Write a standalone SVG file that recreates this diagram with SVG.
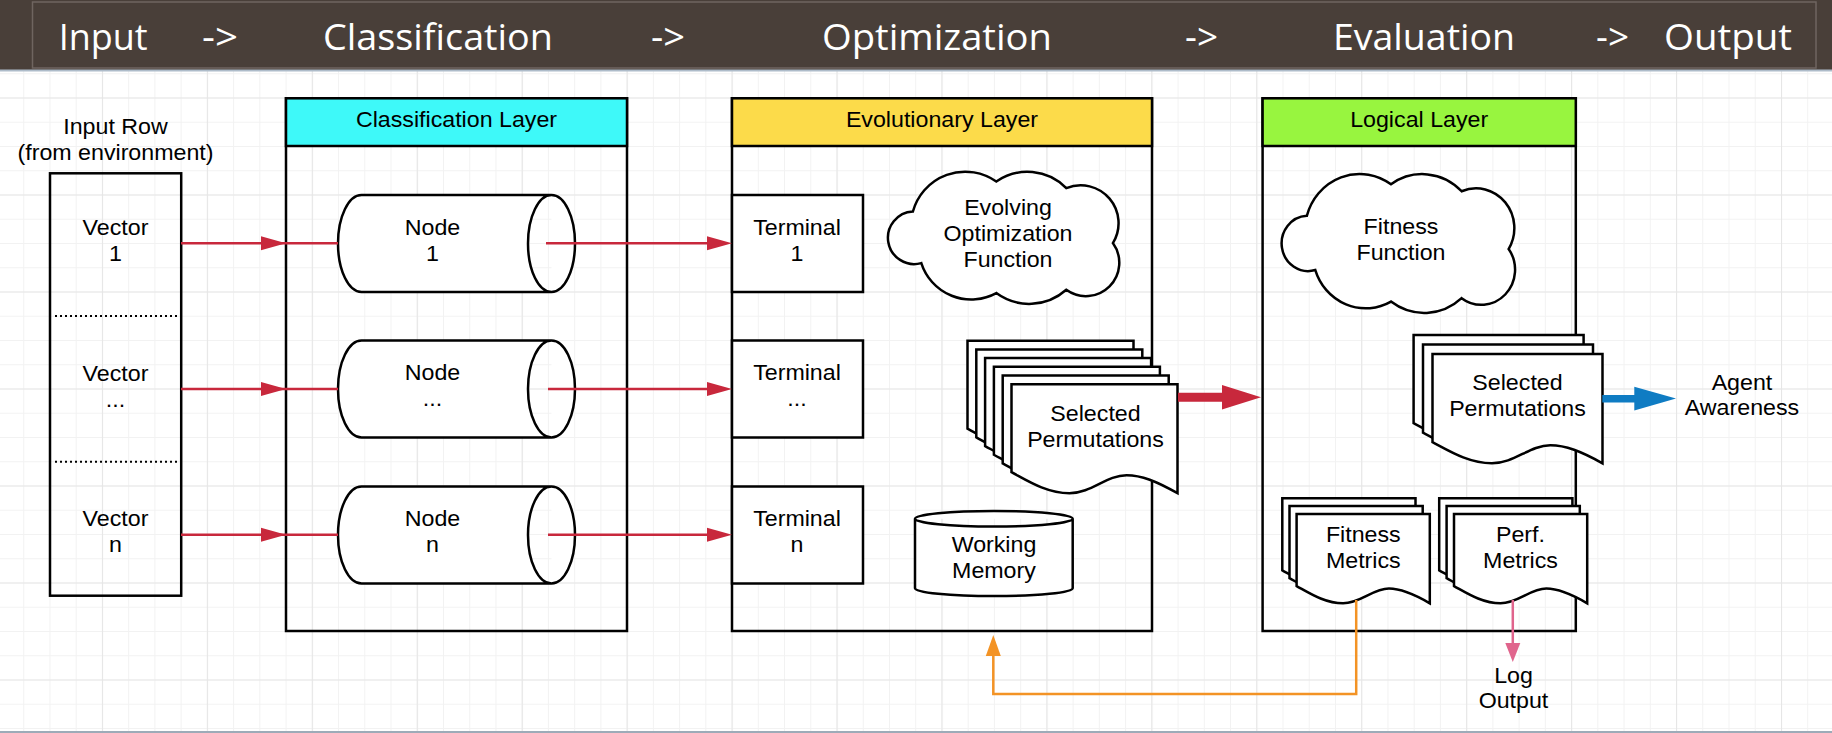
<svg xmlns="http://www.w3.org/2000/svg" width="1832" height="733" viewBox="0 0 1832 733">
<style>
.t{font-family:"Liberation Sans",Arial,sans-serif;font-size:21.5px;fill:#000;text-anchor:middle;transform-box:fill-box;transform-origin:50% 50%;transform:scaleX(1.08)}
.hd{font-family:"Open Sans","Noto Sans",sans-serif;font-size:36px;fill:#fff}
.box{fill:none;stroke:#000;stroke-width:2.5}
.wbox{fill:#fff;stroke:#000;stroke-width:2.5}
.doc{fill:#fff;stroke:#000;stroke-width:2.5;vector-effect:non-scaling-stroke;stroke-linejoin:miter}
.red{stroke:#C8283C;stroke-width:2.5;fill:none}
.redf{fill:#C8283C}
</style>
<defs>
<pattern id="gmin" x="-3" y="0.5" width="26.235" height="24.25" patternUnits="userSpaceOnUse">
<path d="M0.5,0 V24.25 M0,0.5 H26.235" stroke="#F2F2F2" stroke-width="1" fill="none"/>
</pattern>
<pattern id="gmaj" x="-3" y="0.5" width="104.94" height="97" patternUnits="userSpaceOnUse">
<path d="M0.5,0 V97 M0,0.5 H104.94" stroke="#E6E6E6" stroke-width="1.2" fill="none"/>
</pattern>
</defs>
<rect x="0" y="0" width="1832" height="733" fill="#fff"/>
<rect x="0" y="71" width="1832" height="660" fill="url(#gmin)"/>
<rect x="0" y="71" width="1832" height="660" fill="url(#gmaj)"/>
<line x1="0" y1="732" x2="1832" y2="732" stroke="#9DABB8" stroke-width="2"/>

<g id="header">
<rect x="0" y="0" width="1832" height="70" fill="#493F39"/>
<line x1="0" y1="70.5" x2="1832" y2="70.5" stroke="#AEBCCA" stroke-width="2"/>
<rect x="32.5" y="2" width="1783.5" height="66" fill="none" stroke="#6F6560" stroke-width="1.5"/>
<text class="hd" x="58.7" y="50" textLength="89" lengthAdjust="spacingAndGlyphs">Input</text>
<text class="hd" x="202" y="50" textLength="36" lengthAdjust="spacingAndGlyphs">-&gt;</text>
<text class="hd" x="323" y="50" textLength="230" lengthAdjust="spacingAndGlyphs">Classification</text>
<text class="hd" x="651" y="50" textLength="34" lengthAdjust="spacingAndGlyphs">-&gt;</text>
<text class="hd" x="822" y="50" textLength="230" lengthAdjust="spacingAndGlyphs">Optimization</text>
<text class="hd" x="1185" y="50" textLength="33" lengthAdjust="spacingAndGlyphs">-&gt;</text>
<text class="hd" x="1333" y="50" textLength="182" lengthAdjust="spacingAndGlyphs">Evaluation</text>
<text class="hd" x="1596" y="50" textLength="33" lengthAdjust="spacingAndGlyphs">-&gt;</text>
<text class="hd" x="1664" y="50" textLength="128" lengthAdjust="spacingAndGlyphs">Output</text>
</g>

<g id="input-row">
<text class="t" x="115.5" y="134">Input Row</text>
<text class="t" x="115.5" y="160">(from environment)</text>
<rect class="box" x="50" y="173.3" width="131.2" height="422.4"/>
<line x1="55" y1="316" x2="178" y2="316" stroke="#000" stroke-width="2" stroke-dasharray="2 3"/>
<line x1="55" y1="461.7" x2="178" y2="461.7" stroke="#000" stroke-width="2" stroke-dasharray="2 3"/>
<text class="t" x="115.5" y="235">Vector</text>
<text class="t" x="115.5" y="261">1</text>
<text class="t" x="115.5" y="381">Vector</text>
<text class="t" x="115.5" y="407">...</text>
<text class="t" x="115.5" y="526">Vector</text>
<text class="t" x="115.5" y="552">n</text>
</g>

<g id="classification-layer">
<rect class="box" x="286" y="98.3" width="341" height="532.7"/>
<rect x="286" y="98.3" width="341" height="47.7" fill="#3EF9F9" stroke="#000" stroke-width="2.5"/>
<text class="t" x="456.5" y="127">Classification Layer</text>
</g>

<g id="node-1">
<path class="wbox" d="M361.5,195 H551.5 A23.5,48.5 0 0 1 551.5,292 H361.5 A23.5,48.5 0 0 1 361.5,195 Z M551.5,195 A23.5,48.5 0 0 0 551.5,292"/>
<text class="t" x="432.5" y="235">Node</text>
<text class="t" x="432.5" y="261">1</text>
</g>
<g id="node-2">
<path class="wbox" d="M361.5,340.5 H551.5 A23.5,48.5 0 0 1 551.5,437.5 H361.5 A23.5,48.5 0 0 1 361.5,340.5 Z M551.5,340.5 A23.5,48.5 0 0 0 551.5,437.5"/>
<text class="t" x="432.5" y="380">Node</text>
<text class="t" x="432.5" y="406">...</text>
</g>
<g id="node-n">
<path class="wbox" d="M361.5,486.5 H551.5 A23.5,48.5 0 0 1 551.5,583.5 H361.5 A23.5,48.5 0 0 1 361.5,486.5 Z M551.5,486.5 A23.5,48.5 0 0 0 551.5,583.5"/>
<text class="t" x="432.5" y="526">Node</text>
<text class="t" x="432.5" y="552">n</text>
</g>

<g id="evolutionary-layer">
<rect class="box" x="732" y="98.3" width="420" height="532.7"/>
<rect x="732" y="98.3" width="420" height="47.7" fill="#FCDB4A" stroke="#000" stroke-width="2.5"/>
<text class="t" x="942" y="127">Evolutionary Layer</text>
</g>

<g id="terminal-1">
<rect class="wbox" x="732" y="195" width="131" height="97"/>
<text class="t" x="797" y="235">Terminal</text>
<text class="t" x="797" y="261">1</text>
</g>
<g id="terminal-2">
<rect class="wbox" x="732" y="340.5" width="131" height="97"/>
<text class="t" x="797" y="380">Terminal</text>
<text class="t" x="797" y="406">...</text>
</g>
<g id="terminal-n">
<rect class="wbox" x="732" y="486.5" width="131" height="97"/>
<text class="t" x="797" y="526">Terminal</text>
<text class="t" x="797" y="552">n</text>
</g>

<g id="evolving-optimization-function">
<path class="doc" transform="translate(887.6,171.5)" d="M25.3,40 A54.2,54.2 0 0 1 108.7,10 A54.7,54.7 0 0 1 178.7,16.6 A37.9,37.9 0 0 1 225.3,71.6 A33.4,33.4 0 0 1 178.7,118.3 A55.7,55.7 0 0 1 108.7,121.6 A52.4,52.4 0 0 1 33.7,91.6 A26.3,26.3 0 1 1 25.3,40 Z"/>
<text class="t" x="1008" y="215">Evolving</text>
<text class="t" x="1008" y="241">Optimization</text>
<text class="t" x="1008" y="267">Function</text>
</g>

<g id="working-memory">
<path class="wbox" d="M915,518.7 A78.85,7.8 0 0 1 1072.7,518.7 V588.3 A78.85,7.8 0 0 1 915,588.3 Z M915,518.7 A78.85,7.8 0 0 0 1072.7,518.7"/>
<text class="t" x="994" y="552">Working</text>
<text class="t" x="994" y="578">Memory</text>
</g>

<g id="selected-permutations-evo">
<path class="doc" transform="translate(967.5,340.7) scale(1.66,1.09)" d="M0,0 H100 V100 C87.3,89 78.3,83.5 69.3,83.5 C57.2,83.5 48.2,100 34.9,100 C21.1,100 9,88 0,80.7 Z"/>
<path class="doc" transform="translate(976.3,349.4) scale(1.66,1.09)" d="M0,0 H100 V100 C87.3,89 78.3,83.5 69.3,83.5 C57.2,83.5 48.2,100 34.9,100 C21.1,100 9,88 0,80.7 Z"/>
<path class="doc" transform="translate(985.1,358.1) scale(1.66,1.09)" d="M0,0 H100 V100 C87.3,89 78.3,83.5 69.3,83.5 C57.2,83.5 48.2,100 34.9,100 C21.1,100 9,88 0,80.7 Z"/>
<path class="doc" transform="translate(993.9,366.8) scale(1.66,1.09)" d="M0,0 H100 V100 C87.3,89 78.3,83.5 69.3,83.5 C57.2,83.5 48.2,100 34.9,100 C21.1,100 9,88 0,80.7 Z"/>
<path class="doc" transform="translate(1002.7,375.5) scale(1.66,1.09)" d="M0,0 H100 V100 C87.3,89 78.3,83.5 69.3,83.5 C57.2,83.5 48.2,100 34.9,100 C21.1,100 9,88 0,80.7 Z"/>
<path class="doc" transform="translate(1011.5,384.2) scale(1.66,1.09)" d="M0,0 H100 V100 C87.3,89 78.3,83.5 69.3,83.5 C57.2,83.5 48.2,100 34.9,100 C21.1,100 9,88 0,80.7 Z"/>
<text class="t" x="1095.5" y="421">Selected</text>
<text class="t" x="1095.5" y="447">Permutations</text>
</g>

<g id="logical-layer">
<rect class="box" x="1262.6" y="98.3" width="313.2" height="532.7"/>
<rect x="1262.6" y="98.3" width="313.2" height="47.7" fill="#98F53F" stroke="#000" stroke-width="2.5"/>
<text class="t" x="1419.2" y="127">Logical Layer</text>
</g>

<g id="fitness-function">
<path class="doc" transform="translate(1281.3,173.8) scale(1.009,1.051)" d="M25.3,40 A54.2,54.2 0 0 1 108.7,10 A54.7,54.7 0 0 1 178.7,16.6 A37.9,37.9 0 0 1 225.3,71.6 A33.4,33.4 0 0 1 178.7,118.3 A55.7,55.7 0 0 1 108.7,121.6 A52.4,52.4 0 0 1 33.7,91.6 A26.3,26.3 0 1 1 25.3,40 Z"/>
<text class="t" x="1401" y="234">Fitness</text>
<text class="t" x="1401" y="260.5">Function</text>
</g>

<g id="selected-permutations-logical">
<path class="doc" transform="translate(1413.6,335) scale(1.70,1.093)" d="M0,0 H100 V100 C87.3,89 78.3,83.5 69.3,83.5 C57.2,83.5 48.2,100 34.9,100 C21.1,100 9,88 0,80.7 Z"/>
<path class="doc" transform="translate(1423,344.5) scale(1.70,1.093)" d="M0,0 H100 V100 C87.3,89 78.3,83.5 69.3,83.5 C57.2,83.5 48.2,100 34.9,100 C21.1,100 9,88 0,80.7 Z"/>
<path class="doc" transform="translate(1432.5,354) scale(1.70,1.093)" d="M0,0 H100 V100 C87.3,89 78.3,83.5 69.3,83.5 C57.2,83.5 48.2,100 34.9,100 C21.1,100 9,88 0,80.7 Z"/>
<text class="t" x="1517.5" y="390">Selected</text>
<text class="t" x="1517.5" y="416.5">Permutations</text>
</g>

<g id="fitness-metrics">
<path class="doc" transform="translate(1282.3,498.3) scale(1.332,0.893)" d="M0,0 H100 V100 C87.3,89 78.3,83.5 69.3,83.5 C57.2,83.5 48.2,100 34.9,100 C21.1,100 9,88 0,80.7 Z"/>
<path class="doc" transform="translate(1289.5,506.1) scale(1.332,0.893)" d="M0,0 H100 V100 C87.3,89 78.3,83.5 69.3,83.5 C57.2,83.5 48.2,100 34.9,100 C21.1,100 9,88 0,80.7 Z"/>
<path class="doc" transform="translate(1296.6,514) scale(1.332,0.893)" d="M0,0 H100 V100 C87.3,89 78.3,83.5 69.3,83.5 C57.2,83.5 48.2,100 34.9,100 C21.1,100 9,88 0,80.7 Z"/>
<text class="t" x="1363.3" y="542.3">Fitness</text>
<text class="t" x="1363.3" y="568.3">Metrics</text>
</g>

<g id="perf-metrics">
<path class="doc" transform="translate(1439.2,498.3) scale(1.332,0.893)" d="M0,0 H100 V100 C87.3,89 78.3,83.5 69.3,83.5 C57.2,83.5 48.2,100 34.9,100 C21.1,100 9,88 0,80.7 Z"/>
<path class="doc" transform="translate(1446.6,506.1) scale(1.332,0.893)" d="M0,0 H100 V100 C87.3,89 78.3,83.5 69.3,83.5 C57.2,83.5 48.2,100 34.9,100 C21.1,100 9,88 0,80.7 Z"/>
<path class="doc" transform="translate(1454,514) scale(1.332,0.893)" d="M0,0 H100 V100 C87.3,89 78.3,83.5 69.3,83.5 C57.2,83.5 48.2,100 34.9,100 C21.1,100 9,88 0,80.7 Z"/>
<text class="t" x="1520.5" y="542.3">Perf.</text>
<text class="t" x="1520.5" y="568.3">Metrics</text>
</g>

<g id="agent-awareness">
<text class="t" x="1742" y="390">Agent</text>
<text class="t" x="1742" y="415.5">Awareness</text>
</g>

<g id="log-output">
<text class="t" x="1513.5" y="683.3">Log</text>
<text class="t" x="1513.5" y="708.3">Output</text>
</g>

<g id="connectors">
<line class="red" x1="181" y1="243.3" x2="338" y2="243.3"/>
<polygon class="redf" points="286,243.3 261,236.3 261,250.3"/>
<line class="red" x1="181" y1="389" x2="338" y2="389"/>
<polygon class="redf" points="286,389 261,382 261,396"/>
<line class="red" x1="181" y1="534.7" x2="338" y2="534.7"/>
<polygon class="redf" points="286,534.7 261,527.7 261,541.7"/>
<line class="red" x1="546" y1="243.3" x2="708" y2="243.3"/>
<polygon class="redf" points="732,243.3 707,236.3 707,250.3"/>
<line class="red" x1="548" y1="389" x2="708" y2="389"/>
<polygon class="redf" points="732,389 707,382 707,396"/>
<line class="red" x1="548" y1="534.7" x2="708" y2="534.7"/>
<polygon class="redf" points="732,534.7 707,527.7 707,541.7"/>
<polygon class="redf" points="1178,392.7 1222,392.7 1222,385 1261,397.2 1222,409.5 1222,401.7 1178,401.7"/>
<polygon fill="#0F7CC3" points="1602.3,394.9 1634.3,394.9 1634.3,386.7 1676,398.6 1634.3,410.6 1634.3,402.5 1602.3,402.5"/>
<line x1="1512.8" y1="600" x2="1512.8" y2="644" stroke="#E0648C" stroke-width="2.5"/>
<polygon fill="#E0648C" points="1512.8,662 1505.3,643 1520.3,643"/>
<path d="M1356.2,600 V694 H993.3 V655" fill="none" stroke="#F39325" stroke-width="2.5"/>
<polygon fill="#F39325" points="993.3,635 985.8,656 1000.8,656"/>
</g>
</svg>
